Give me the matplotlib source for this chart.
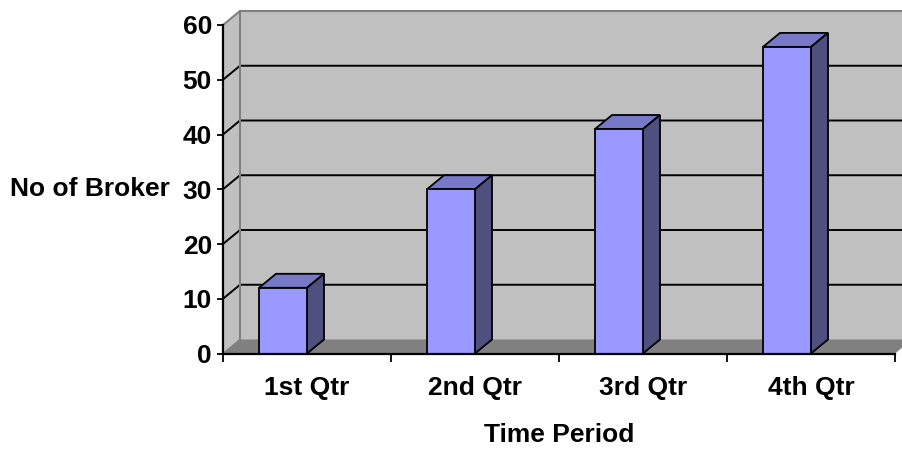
import matplotlib
matplotlib.use("Agg")
import matplotlib.pyplot as plt
from matplotlib.patches import Polygon, Rectangle

# Brokers per quarter
quarters = ["1st Qtr", "2nd Qtr", "3rd Qtr", "4th Qtr"]
brokers = [12, 30, 41, 56]
y_ticks = [0, 10, 20, 30, 40, 50, 60]

plt.rcParams["font.family"] = ["Liberation Sans", "DejaVu Sans"]
plt.rcParams["font.weight"] = "bold"

W, H = 902, 450
fig = plt.figure(figsize=(W / 100, H / 100), dpi=100)
ax_l, ax_r, ax_t, ax_b = 223, 895, 25, 353.5
ax = fig.add_axes([ax_l / W, (H - ax_b) / H, (ax_r - ax_l) / W, (ax_b - ax_t) / H])

n = len(quarters)
ymax = y_ticks[-1]
ax.set_xlim(0, n)
ax.set_ylim(0, ymax)
ax.patch.set_visible(False)

# depth of the fake 3d box, in pixels, turned into data units
depth_px = (17, 14)
dx = depth_px[0] / (ax_r - ax_l) * n
dy = depth_px[1] / (ax_b - ax_t) * ymax

wall = "#c0c0c0"
floor = "#808080"
edge = "#808080"

# back wall, side wall and floor
ax.add_patch(Rectangle((dx, dy), n, ymax, facecolor=wall, edgecolor="none",
                       zorder=0, clip_on=False))
ax.add_patch(Polygon([(0, 0), (dx, dy), (dx, ymax + dy), (0, ymax)], closed=True,
                     facecolor=wall, edgecolor="none", zorder=0, clip_on=False))
ax.add_patch(Polygon([(0, 0), (n, 0), (n + dx, dy), (dx, dy)], closed=True,
                     facecolor=floor, edgecolor="none", zorder=1, clip_on=False))

# gridlines run across the side wall and the back wall
for v in y_ticks[1:-1]:
    ax.plot([0, dx, n + dx], [v, v + dy, v + dy], color="black", lw=1.4,
            zorder=0.5, clip_on=False, solid_capstyle="butt")
ax.plot([0, dx, n + dx], [ymax, ymax + dy, ymax + dy], color=edge, lw=1.5,
        zorder=0.6, clip_on=False)
ax.plot([dx, dx], [dy, ymax + dy], color=edge, lw=1.5, zorder=0.6, clip_on=False)
ax.plot([0, dx], [0, dy], color=edge, lw=1.0, zorder=1.1, clip_on=False)

# bars: front, top and side faces
slot_px = (ax_r - ax_l) / n
off = 36 / slot_px
bw = 48 / slot_px
for i, v in enumerate(brokers):
    x0 = i + off
    top = Polygon([(x0, v), (x0 + bw, v), (x0 + bw + dx, v + dy), (x0 + dx, v + dy)],
                  closed=True, facecolor="#7878c8", edgecolor="black", lw=1.3,
                  zorder=3, clip_on=False)
    side = Polygon([(x0 + bw, 0), (x0 + bw + dx, dy), (x0 + bw + dx, v + dy), (x0 + bw, v)],
                   closed=True, facecolor="#4f4f80", edgecolor="black", lw=1.3,
                   zorder=3, clip_on=False)
    front = Rectangle((x0, 0), bw, v, facecolor="#9999ff", edgecolor="black",
                      lw=1.3, zorder=4, clip_on=False)
    ax.add_patch(top)
    ax.add_patch(side)
    ax.add_patch(front)

# axes lines and ticks
for s in ["top", "right"]:
    ax.spines[s].set_visible(False)
for s in ["left", "bottom"]:
    ax.spines[s].set_color("black")
    ax.spines[s].set_linewidth(1.6)
    ax.spines[s].set_zorder(5)

fs = 19
ax.set_yticks(y_ticks)
ax.tick_params(axis="y", direction="out", length=4, width=1.3, pad=4, labelsize=fs)
ax.set_xticks(range(n + 1))
ax.set_xticklabels([])
ax.set_xticks([i + 0.5 for i in range(n)], minor=True)
ax.set_xticklabels(quarters, minor=True)
ax.tick_params(axis="x", which="major", direction="out", length=6, width=1.3)
ax.tick_params(axis="x", which="minor", length=0, pad=16, labelsize=fs)

ax.set_xlabel("Time Period", fontsize=fs, fontweight="bold")
ax.xaxis.set_label_coords(0.5, -0.213)
ax.set_ylabel("No of Broker", fontsize=fs, fontweight="bold", rotation=0,
              ha="right", va="center")
ax.yaxis.set_label_coords(-0.079, 0.5)

fig.savefig("out.png", dpi=100, facecolor="white")
